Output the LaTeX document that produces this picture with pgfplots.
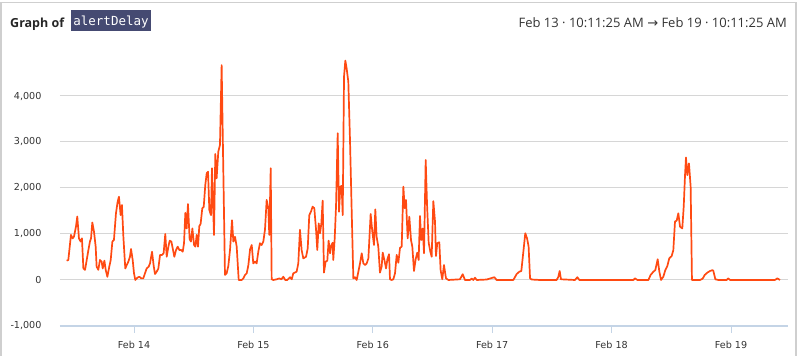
\documentclass[border=0pt]{standalone}
\usepackage{pgfplots}
\pgfplotsset{compat=1.18}
\usepackage{fontspec}
\setmainfont{Open Sans}
\newfontfamily\tickfont{DejaVu Sans}
\newfontfamily\arrowfont{DejaVu Sans}
\setmonofont{DejaVu Sans Mono}
\definecolor{lineor}{HTML}{FF4A12}
\definecolor{gridgray}{HTML}{D6D6D6}
\definecolor{axblue}{HTML}{C4D4E6}
\definecolor{boxnavy}{HTML}{454A72}
\definecolor{txtgray}{HTML}{333333}
\definecolor{border}{HTML}{CFCFCF}
\begin{document}
\begin{tikzpicture}
\begin{axis}[
  scale only axis, width=728bp, height=281bp,
  xmin=0.380, xmax=6.477,
  ymin=-1000, ymax=5109,
  axis x line*=bottom, axis y line*=left,
  x axis line style={-,draw=axblue,line width=1.6bp},
  y axis line style={draw=none},
  xtick={1,2,3,4,5,6},
  xticklabels={Feb 14,Feb 15,Feb 16,Feb 17,Feb 18,Feb 19},
  ytick={-1000,0,1000,2000,3000,4000},
  ymajorgrids,
  grid style={gridgray,line width=1bp},
  x tick style={axblue,line width=1bp},
  y tick style={draw=none},
  tick align=outside,
  major tick length=7bp,
  /pgf/number format/assume math mode=true,
  /pgf/number format/1000 sep={,},
  ticklabel style={font=\tickfont\fontsize{9.6bp}{11bp}\selectfont,text=txtgray},
  yticklabel style={xshift=-8bp},
  xticklabel style={yshift=-5bp},
  clip=false,
]
% page frame (invisible) : pixel (0,0)-(800,356)
\path (axis cs:-0.12228,-1652) rectangle (axis cs:6.5779,6087);
% panel borders
\draw[border,line width=1.2bp] (axis cs:-0.1139,-1652) -- (axis cs:-0.1139,6032) -- (axis cs:6.5444,6032) -- (axis cs:6.5444,-1652);
% title
\node[anchor=base west,inner sep=0pt,font=\fontsize{12.5bp}{14bp}\selectfont\bfseries,text=black!85] at (axis cs:-0.0385,5500) {Graph of};
\fill[boxnavy] (axis cs:0.4724,5413) rectangle (axis cs:1.1424,5870);
\node[anchor=base,inner sep=0pt,font=\fontsize{12.5bp}{14bp}\selectfont\ttfamily,text=white] at (axis cs:0.8074,5522) {alertDelay};
\node[anchor=base east,inner sep=0pt,font=\fontsize{13bp}{15bp}\selectfont,text=txtgray] at (axis cs:6.4690,5500) {Feb 13 · 10:11:25 AM {\arrowfont →} Feb 19 · 10:11:25 AM};
\addplot[lineor,line width=1.7bp,line join=round,mark=none] coordinates {
(0.436,420)(0.450,435)(0.472,980)(0.486,905)(0.497,940)(0.514,1160)(0.525,1380)(0.539,905)(0.553,835)(0.564,905)
(0.576,250)(0.590,220)(0.604,435)(0.618,650)(0.631,835)(0.640,905)(0.651,1250)(0.665,1050)(0.679,725)(0.687,290)
(0.701,220)(0.715,435)(0.729,400)(0.738,250)(0.752,420)(0.763,220)(0.777,70)(0.793,290)(0.805,435)(0.819,835)
(0.832,870)(0.849,1450)(0.863,1700)(0.874,1810)(0.888,1410)(0.899,1630)(0.911,940)(0.927,250)(0.939,325)(0.953,400)
(0.966,505)(0.975,675)(0.989,435)(1.000,145)(1.011,0)(1.028,50)(1.045,70)(1.061,35)(1.078,35)(1.092,145)
(1.106,250)(1.123,290)(1.134,360)(1.151,615)(1.165,305)(1.176,130)(1.190,180)(1.204,250)(1.218,545)(1.235,545)
(1.248,580)(1.262,1000)(1.274,505)(1.288,725)(1.299,855)(1.313,835)(1.324,690)(1.338,505)(1.352,650)(1.366,725)
(1.380,650)(1.396,650)(1.408,615)(1.419,800)(1.430,1460)(1.441,1120)(1.452,1650)(1.466,885)(1.477,835)(1.489,1120)
(1.503,760)(1.514,725)(1.525,980)(1.536,725)(1.547,1170)(1.558,1220)(1.572,1560)(1.584,1590)(1.597,2065)(1.609,2320)
(1.620,2355)(1.631,1520)(1.645,1410)(1.653,2430)(1.670,980)(1.681,2740)(1.692,2210)(1.706,2790)(1.720,2935)(1.734,4670)
(1.762,110)(1.776,145)(1.790,305)(1.804,650)(1.821,1300)(1.832,835)(1.846,940)(1.860,725)(1.877,0)(1.902,0)
(1.916,35)(1.930,110)(1.944,145)(1.958,325)(1.972,665)(1.986,760)(1.999,360)(2.013,400)(2.027,360)(2.041,615)
(2.055,800)(2.069,760)(2.083,835)(2.097,1090)(2.111,1740)(2.125,1560)(2.133,980)(2.145,2430)(2.153,15)(2.167,0)
(2.195,15)(2.217,35)(2.234,15)(2.251,70)(2.267,0)(2.284,0)(2.307,60)(2.321,15)(2.334,145)(2.362,180)
(2.376,360)(2.390,1090)(2.404,650)(2.418,470)(2.441,505)(2.455,690)(2.468,1410)(2.482,1485)(2.496,1595)(2.510,1560)
(2.524,1120)(2.535,650)(2.547,1230)(2.558,1015)(2.569,1230)(2.580,1725)(2.591,160)(2.605,400)(2.619,420)(2.630,855)
(2.642,580)(2.653,760)(2.664,810)(2.669,435)(2.681,905)(2.692,1595)(2.706,3190)(2.717,1485)(2.728,2030)(2.739,2045)
(2.748,1410)(2.759,4420)(2.770,4770)(2.781,4600)(2.795,4310)(2.809,3045)(2.823,1520)(2.837,35)(2.851,60)(2.865,0)
(2.879,180)(2.893,360)(2.907,580)(2.921,360)(2.935,325)(2.949,360)(2.963,470)(2.982,1435)(2.996,1050)(3.010,760)
(3.021,1535)(3.032,940)(3.046,725)(3.060,160)(3.074,290)(3.083,595)(3.097,435)(3.111,250)(3.122,450)(3.136,560)
(3.144,15)(3.158,0)(3.172,15)(3.186,145)(3.200,545)(3.214,375)(3.228,700)(3.242,725)(3.256,2030)(3.267,1560)
(3.278,1740)(3.292,905)(3.306,1375)(3.320,870)(3.331,725)(3.345,195)(3.359,450)(3.373,595)(3.384,435)(3.395,1390)
(3.406,870)(3.418,1120)(3.429,580)(3.443,2610)(3.454,1665)(3.468,810)(3.482,615)(3.493,505)(3.507,1715)(3.521,1270)
(3.529,520)(3.540,800)(3.557,820)(3.568,215)(3.582,15)(3.596,325)(3.613,35)(3.633,0)(3.730,15)(3.753,125)
(3.772,0)(3.814,0)(3.828,30)(3.842,0)(3.856,50)(3.870,0)(3.954,10)(4.018,60)(4.037,0)(4.177,0)
(4.205,130)(4.227,180)(4.244,195)(4.261,615)(4.277,1015)(4.292,905)(4.305,725)(4.317,35)(4.331,10)(4.400,0)
(4.540,0)(4.554,70)(4.565,195)(4.576,15)(4.693,0)(4.713,60)(4.730,0)(5.182,0)(5.196,35)(5.216,0)
(5.308,0)(5.327,110)(5.350,180)(5.366,215)(5.386,450)(5.400,180)(5.414,0)(5.433,70)(5.450,215)(5.467,305)
(5.483,470)(5.503,520)(5.517,650)(5.531,1270)(5.545,1290)(5.559,1450)(5.573,1160)(5.592,1120)(5.604,1595)(5.615,2280)
(5.623,2665)(5.634,2280)(5.648,2535)(5.662,2030)(5.673,0)(5.740,0)(5.763,30)(5.780,110)(5.802,160)(5.824,195)
(5.846,215)(5.852,200)(5.869,15)(5.894,0)(5.964,0)(5.975,35)(5.993,0)(6.368,0)(6.388,35)(6.410,0)
};
\end{axis}
\end{tikzpicture}
\end{document}
